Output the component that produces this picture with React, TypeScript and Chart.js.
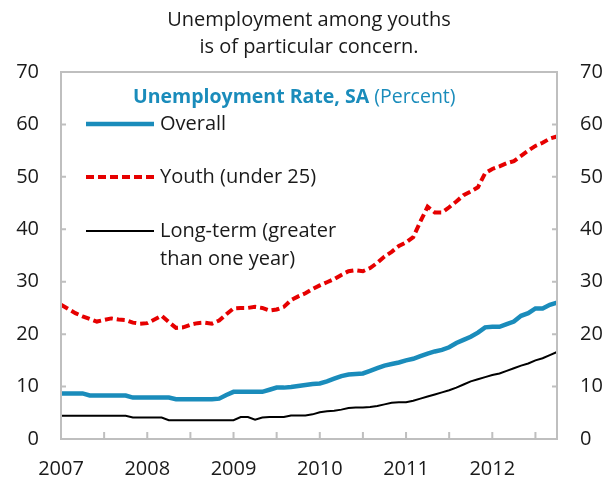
import React, { useEffect, useRef } from "react";
import { Chart, registerables } from "chart.js";

Chart.register(...registerables);

const titleLines = ["Unemployment among youths", "is of particular concern."];
const legendTitleBold = "Unemployment Rate, SA";
const legendTitleNormal = " (Percent)";
const seriesNames = ["Overall", "Youth (under 25)", "Long-term (greater|than one year)"];

const yearLabels = ["2007", "2008", "2009", "2010", "2011", "2012"];
const monthNames = ["Jan", "Feb", "Mar", "Apr", "May", "Jun", "Jul", "Aug", "Sep", "Oct", "Nov", "Dec"];
const lastMonthIndex2012 = 9; // Oct 2012
const months: string[] = [];
yearLabels.forEach((y, yi) => {
  monthNames.forEach((m, mi) => {
    if (yi < yearLabels.length - 1 || mi <= lastMonthIndex2012) months.push(m + " " + y);
  });
});

const yTicks = [0, 10, 20, 30, 40, 50, 60, 70];

const overall = [
  8.7, 8.7, 8.7, 8.7, 8.3, 8.3, 8.3, 8.3, 8.3, 8.3,
  7.9, 7.9, 7.9, 7.9, 7.9, 7.9, 7.6, 7.6, 7.6, 7.6,
  7.6, 7.6, 7.7, 8.4, 9.0, 9.0, 9.0, 9.0, 9.0, 9.4,
  9.8, 9.8, 9.9, 10.1, 10.3, 10.5, 10.6, 11.0, 11.5, 12.0,
  12.3, 12.4, 12.5, 13.0, 13.5, 14.0, 14.3, 14.6, 15.0, 15.3,
  15.8, 16.3, 16.7, 17.0, 17.5, 18.3, 18.9, 19.5, 20.3, 21.3,
  21.4, 21.4, 21.9, 22.4, 23.5, 24.0, 24.9, 24.9, 25.6, 26.0,
];

const youth = [
  25.6, 24.8, 24.0, 23.4, 22.9, 22.4, 22.7, 23.0, 22.8, 22.7,
  22.2, 22.0, 22.1, 22.8, 23.5, 22.3, 21.2, 21.3, 21.8, 22.1,
  22.2, 22.0, 22.6, 23.8, 24.9, 25.0, 25.0, 25.2, 25.0, 24.5,
  24.7, 25.2, 26.5, 27.2, 27.8, 28.6, 29.3, 29.9, 30.5, 31.3,
  32.0, 32.2, 32.0, 32.6, 33.6, 34.8, 35.7, 36.8, 37.5, 38.5,
  41.5, 44.3, 43.2, 43.2, 44.2, 45.3, 46.5, 47.2, 48.0, 50.7,
  51.5, 52.0, 52.6, 53.0, 54.0, 55.0, 55.9, 56.5, 57.3, 57.7,
];

const longTerm = [
  4.45, 4.45, 4.45, 4.45, 4.45, 4.45, 4.45, 4.45, 4.45, 4.45,
  4.1, 4.1, 4.1, 4.1, 4.1, 3.6, 3.6, 3.6, 3.6, 3.6,
  3.6, 3.6, 3.6, 3.6, 3.6, 4.2, 4.2, 3.7, 4.1, 4.2,
  4.2, 4.2, 4.5, 4.5, 4.5, 4.7, 5.1, 5.3, 5.4, 5.6,
  5.9, 6.0, 6.0, 6.1, 6.3, 6.6, 6.9, 7.0, 7.0, 7.3,
  7.7, 8.1, 8.5, 8.9, 9.3, 9.8, 10.4, 11.0, 11.4, 11.8,
  12.2, 12.5, 13.0, 13.5, 14.0, 14.4, 15.0, 15.4, 16.0, 16.6,
];

const BLUE = "#1a8cbb";
const RED = "#e60000";
const BLACK = "#000000";
const GRAY = "#bfbfbf";
const TEXT = "#1a1a1a";
const FONT = "'Open Sans', sans-serif";

const framePlugin = {
  id: "frame",
  afterDraw(chart: any) {
    const { ctx, chartArea } = chart;
    const { left, right, top, bottom } = chartArea;
    const xs = chart.scales.x;
    const ys = chart.scales.y;
    ctx.save();
    // border
    ctx.strokeStyle = GRAY;
    ctx.lineWidth = 2;
    ctx.strokeRect(left, top, right - left, bottom - top);
    // inward ticks
    ctx.beginPath();
    yTicks.forEach((v) => {
      const py = ys.getPixelForValue(v);
      ctx.moveTo(left, py);
      ctx.lineTo(left + 5, py);
      ctx.moveTo(right, py);
      ctx.lineTo(right - 5, py);
    });
    for (let i = 0; i < months.length; i += 6) {
      const px = xs.getPixelForValue(i);
      ctx.moveTo(px, bottom);
      ctx.lineTo(px, bottom - 7);
    }
    ctx.stroke();

    // title
    ctx.fillStyle = TEXT;
    ctx.font = `20px ${FONT}`;
    ctx.textAlign = "center";
    ctx.textBaseline = "middle";
    const cx = (left + right) / 2;
    ctx.fillText(titleLines[0], cx, 20);
    ctx.fillText(titleLines[1], cx, 47);

    // legend title
    ctx.textAlign = "left";
    ctx.fillStyle = BLUE;
    ctx.font = `bold 19.5px ${FONT}`;
    const lx = 133;
    ctx.fillText(legendTitleBold, lx, 97);
    const w = ctx.measureText(legendTitleBold).width;
    ctx.font = `19.5px ${FONT}`;
    ctx.fillText(legendTitleNormal, lx + w, 97);

    // legend items
    const items = [
      { y: 124, color: BLUE, width: 4.5, dash: [] as number[] },
      { y: 177, color: RED, width: 4, dash: [8, 4] },
      { y: 231, color: BLACK, width: 2, dash: [] as number[] },
    ];
    items.forEach((it, i) => {
      ctx.beginPath();
      ctx.strokeStyle = it.color;
      ctx.lineWidth = it.width;
      ctx.setLineDash(it.dash);
      ctx.moveTo(86, it.y);
      ctx.lineTo(154, it.y);
      ctx.stroke();
      ctx.setLineDash([]);
      ctx.fillStyle = TEXT;
      ctx.font = `20px ${FONT}`;
      const lines = seriesNames[i].split("|");
      lines.forEach((t, li) => ctx.fillText(t, 160, it.y + li * 28));
    });
    ctx.restore();
  },
};

export default function App() {
  const ref = useRef<HTMLCanvasElement | null>(null);
  useEffect(() => {
    if (!ref.current) return;
    const tickFont = { family: FONT, size: 20 };
    const chart = new Chart(ref.current, {
      type: "line",
      data: {
        labels: months,
        datasets: [
          { label: "Overall", data: overall, borderColor: BLUE, borderWidth: 4.5, pointRadius: 0, tension: 0, fill: false },
          { label: "Youth (under 25)", data: youth, borderColor: RED, borderWidth: 4, borderDash: [8, 4], pointRadius: 0, tension: 0, fill: false },
          { label: "Long-term", data: longTerm, borderColor: BLACK, borderWidth: 2, pointRadius: 0, tension: 0, fill: false },
        ],
      },
      options: {
        responsive: false,
        animation: false,
        devicePixelRatio: 1,
        layout: { padding: { top: 72, left: 0, right: 0, bottom: 0 } },
        plugins: { legend: { display: false }, title: { display: false }, tooltip: { enabled: false } },
        scales: {
          x: {
            type: "category",
            offset: false,
            grid: { display: false, drawTicks: false },
            border: { display: false },
            ticks: {
              autoSkip: false,
              maxRotation: 0,
              minRotation: 0,
              padding: 18,
              color: TEXT,
              font: tickFont,
              callback: (_v: any, i: number) => (i % 12 === 0 ? yearLabels[i / 12] : ""),
            },
            afterFit: (s: any) => { s.height = 41; },
          },
          y: {
            position: "left",
            min: 0,
            max: 70,
            grid: { display: false, drawTicks: false },
            border: { display: false },
            ticks: { stepSize: 10, padding: 22, color: TEXT, font: tickFont },
            afterFit: (s: any) => { s.width = 61; },
          },
          y1: {
            position: "right",
            min: 0,
            max: 70,
            grid: { display: false, drawTicks: false },
            border: { display: false },
            ticks: { stepSize: 10, padding: 23, color: TEXT, font: tickFont },
            afterFit: (s: any) => { s.width = 47; },
          },
        },
      },
      plugins: [framePlugin],
    } as any);
    return () => chart.destroy();
  }, []);
  return (
    <div style={{ position: "absolute", left: 0, top: 0, width: 604, height: 480, background: "#fff" }}>
      <canvas ref={ref} width={604} height={480} style={{ display: "block", width: 604, height: 480 }} />
    </div>
  );
}
